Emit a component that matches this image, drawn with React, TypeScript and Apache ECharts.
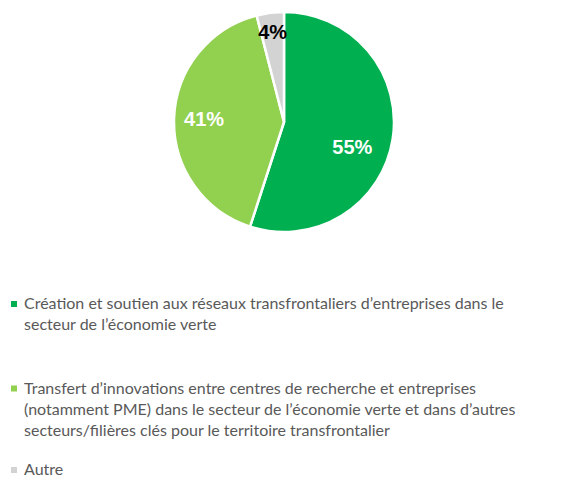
import React, { useEffect, useRef } from "react";
import * as echarts from "echarts";

const categories = [
  "Création et soutien aux réseaux transfrontaliers d’entreprises dans le\nsecteur de l’économie verte",
  "Transfert d’innovations entre centres de recherche et entreprises\n(notamment PME) dans le secteur de l’économie verte et dans d’autres\nsecteurs/filières clés pour le territoire transfrontalier",
  "Autre",
];
const values = [55, 41, 4];
const colors = ["#00B050", "#92D050", "#D3D3D3"];
const labelColors = ["#FFFFFF", "#FFFFFF", "#000000"];

export default function App() {
  const ref = useRef<HTMLDivElement>(null);
  useEffect(() => {
    if (!ref.current) return;
    const chart = echarts.init(ref.current, null, { renderer: "svg" });
    const cx = 284;
    const cy = 122;
    const R = 110;
    const labelRadius = [0.66, 0.727, 0.825];
    const labelAngleShift = [10.8, 0, 0];
    const legendTops = [292, 376.5, 458];
    const lineH = 21;
    const total = values.reduce((a, b) => a + b, 0);
    const graphic: any[] = [];
    categories.forEach((c, i) => {
      graphic.push({
        type: "rect",
        shape: { x: 11, y: legendTops[i] + 9, width: 6, height: 6 },
        style: { fill: colors[i] },
      });
      graphic.push({
        type: "text",
        x: 24,
        y: legendTops[i],
        style: {
          text: c,
          fill: "#595959",
          font: "16px Lato",
          lineHeight: lineH,
          verticalAlign: "top",
        },
      });
    });
    chart.setOption({
      animation: false,
      backgroundColor: "#FFFFFF",
      graphic,
      series: [
        {
          type: "pie",
          center: [cx, cy],
          radius: R,
          startAngle: 90,
          clockwise: true,
          data: categories.map((n, i) => ({
            name: n,
            value: values[i],
            itemStyle: { color: colors[i] },
            label: { color: labelColors[i] },
          })),
          itemStyle: { borderColor: "#FFFFFF", borderWidth: 2.5 },
          label: {
            show: true,
            position: "inside",
            formatter: (p: any) => p.value + "%",
            fontFamily: "Liberation Sans",
            fontWeight: "bold",
            fontSize: 20,
          },
          labelLine: { show: false },
          labelLayout: (p: any) => {
            const i = p.dataIndex;
            let before = 0;
            for (let k = 0; k < i; k++) before += values[k];
            const mid = ((before + values[i] / 2) / total) * 360 + labelAngleShift[i];
            const a = (mid * Math.PI) / 180;
            const d = labelRadius[i] * R;
            return { x: cx + d * Math.sin(a), y: cy - d * Math.cos(a), align: "center", verticalAlign: "middle" };
          },
        },
      ],
    });
    return () => chart.dispose();
  }, []);
  return (
    <div
      ref={ref}
      style={{ position: "fixed", left: 0, top: 0, width: 572, height: 477 }}
    />
  );
}
